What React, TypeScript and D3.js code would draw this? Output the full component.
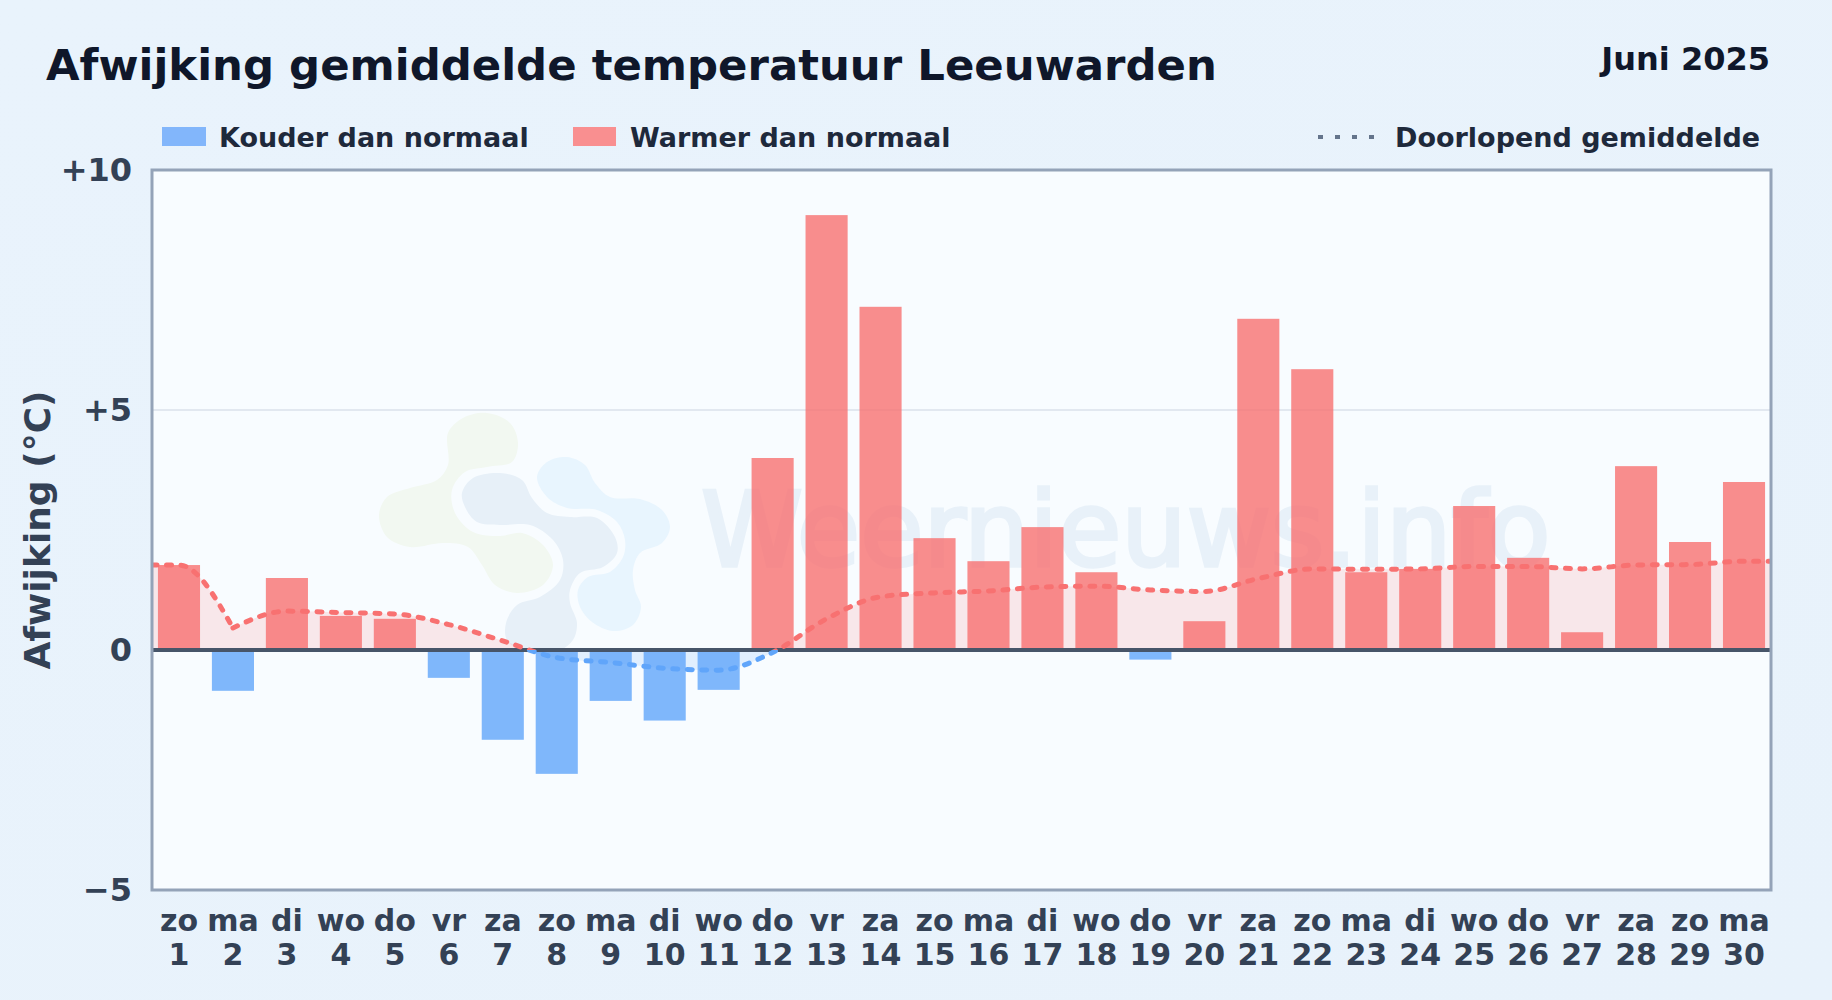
import { useMemo } from "react";
import * as d3 from "d3";

const W = 1832;
const H = 1000;
const mg = { top: 170, right: 61, bottom: 110, left: 152 };

const weekdays = ["zo", "ma", "di", "wo", "do", "vr", "za", "zo", "ma", "di", "wo", "do", "vr", "za", "zo", "ma", "di", "wo", "do", "vr", "za", "zo", "ma", "di", "wo", "do", "vr", "za", "zo", "ma"];
const days = d3.range(1, 31);
const anomaly = [1.77, -0.85, 1.5, 0.71, 0.65, -0.58, -1.87, -2.58, -1.06, -1.47, -0.83, 4.0, 9.06, 7.15, 2.33, 1.85, 2.56, 1.62, -0.2, 0.6, 6.9, 5.85, 1.62, 1.69, 3.0, 1.92, 0.37, 3.83, 2.25, 3.5];
const runningMean = [1.77, 0.46, 0.81, 0.78, 0.75, 0.53, 0.19, -0.16, -0.26, -0.38, -0.42, -0.05, 0.65, 1.11, 1.19, 1.23, 1.31, 1.33, 1.25, 1.22, 1.49, 1.69, 1.68, 1.69, 1.74, 1.74, 1.69, 1.77, 1.78, 1.85];
const yTicks = [10, 5, 0, -5];

const blobGreen: [number, number][] = [[448, 433], [463, 418], [487, 413], [510, 423], [518, 443], [512, 462], [487, 467], [465, 472], [452, 490], [455, 513], [473, 532], [500, 536], [522, 533], [543, 545], [553, 565], [543, 585], [517, 593], [495, 585], [482, 565], [468, 547], [443, 543], [410, 547], [387, 537], [379, 515], [387, 497], [410, 488], [437, 480], [448, 465]];
const blobSlate: [number, number][] = [[462, 493], [473, 478], [500, 473], [522, 480], [532, 498], [547, 513], [570, 517], [597, 518], [615, 537], [617, 553], [603, 567], [580, 573], [570, 590], [570, 603], [577, 623], [573, 640], [560, 650], [525, 652], [507, 640], [506, 623], [517, 605], [540, 597], [560, 580], [563, 560], [553, 540], [530, 525], [500, 525], [477, 522], [465, 507]];
const blobBlue: [number, number][] = [[537, 477], [547, 462], [567, 457], [585, 465], [595, 483], [610, 497], [640, 499], [662, 510], [670, 527], [662, 543], [640, 553], [633, 570], [635, 590], [641, 607], [633, 625], [613, 631], [592, 622], [580, 607], [578, 590], [588, 577], [610, 572], [623, 557], [625, 540], [617, 522], [597, 510], [567, 508], [547, 497]];

const FONT = "'DejaVu Sans', sans-serif";

export default function App() {
  const x = useMemo(
    () => d3.scaleBand<number>().domain(days).range([mg.left, W - mg.right]).paddingInner(0.22).paddingOuter(0.11),
    []
  );
  const y = useMemo(() => d3.scaleLinear().domain([-5, 10]).range([H - mg.bottom, mg.top]), []);
  const cx = (d: number) => x(d)! + x.bandwidth() / 2;
  const zeroY = y(0);

  // the mean runs on flat to both plot edges, with a kink at day 2
  const pts: [number, number][] = [
    [mg.left, y(runningMean[0])],
    ...runningMean.map((v, i): [number, number] => [cx(days[i]), y(v)]),
    [W - mg.right, y(runningMean[runningMean.length - 1])],
  ];
  const lineGen = d3.line().curve(d3.curveMonotoneX);
  const areaGen = d3.area().curve(d3.curveMonotoneX).y0(zeroY);
  const head = pts.slice(0, 3);
  const tail = pts.slice(2);
  const linePath = `${lineGen(head)}${lineGen(tail)}`;
  const areaPath = `${areaGen(head)}${areaGen(tail)}`;
  const blob = d3.line().curve(d3.curveCatmullRomClosed.alpha(0.5));

  const plotW = W - mg.left - mg.right;
  const plotH = H - mg.top - mg.bottom;

  return (
    <svg
      width={W}
      height={H}
      viewBox={`0 0 ${W} ${H}`}
      style={{ position: "absolute", left: 0, top: 0, fontFamily: FONT }}
    >
      <defs>
        <linearGradient id="pageBg" x1="0" y1="0" x2="1" y2="1">
          <stop offset="0%" stopColor="#e9f3fc" />
          <stop offset="100%" stopColor="#e8f2fb" />
        </linearGradient>
        <clipPath id="aboveZero">
          <rect x={mg.left} y={mg.top} width={plotW} height={zeroY - mg.top} />
        </clipPath>
        <clipPath id="belowZero">
          <rect x={mg.left} y={zeroY} width={plotW} height={H - mg.bottom - zeroY} />
        </clipPath>
      </defs>
      <rect width={W} height={H} fill="url(#pageBg)" />

      <text x={46} y={79.5} fontSize={43.4} fontWeight={700} fill="#0f172a">
        Afwijking gemiddelde temperatuur Leeuwarden
      </text>
      <text x={1770} y={70} fontSize={32} fontWeight={700} fill="#0f172a" textAnchor="end">
        Juni 2025
      </text>

      <rect x={162} y={127} width={44} height={19} fill="#82b6fb" />
      <text x={219} y={146.5} fontSize={27} fontWeight={700} fill="#1e293b">
        Kouder dan normaal
      </text>
      <rect x={573} y={127} width={43} height={19} fill="#f98f90" />
      <text x={630} y={146.5} fontSize={27} fontWeight={700} fill="#1e293b">
        Warmer dan normaal
      </text>
      <line x1={1318} x2={1376} y1={137} y2={137} stroke="#64748b" strokeWidth={4} strokeDasharray="5 12" />
      <text x={1395} y={146.5} fontSize={27} fontWeight={700} fill="#1e293b">
        Doorlopend gemiddelde
      </text>

      <rect x={mg.left} y={mg.top} width={plotW} height={plotH} fill="#f8fcff" />

      <path d={blob(blobGreen)!} fill="#f2f8f1" />
      <path d={blob(blobSlate)!} fill="#e7f0f8" />
      <path d={blob(blobBlue)!} fill="#e8f5fe" />
      <text x={701} y={566} fontSize={103} fontWeight={400} stroke="#e8f1f9" strokeWidth={3.5} fill="#e8f1f9">
        Weernieuws.info
      </text>

      <line x1={mg.left} x2={W - mg.right} y1={y(5)} y2={y(5)} stroke="#e2e8f0" strokeWidth={2} />

      <path d={areaPath} fill="#f87171" opacity={0.15} clipPath="url(#aboveZero)" />
      <path d={areaPath} fill="#60a5fa" opacity={0.15} clipPath="url(#belowZero)" />

      {anomaly.map((v, i) => (
        <rect
          key={days[i]}
          x={x(days[i])}
          y={y(Math.max(v, 0))}
          width={x.bandwidth()}
          height={Math.abs(y(v) - zeroY)}
          fill={v >= 0 ? "#f87171" : "#60a5fa"}
          opacity={0.8}
        />
      ))}

      <line x1={mg.left} x2={W - mg.right} y1={zeroY} y2={zeroY} stroke="#475569" strokeWidth={4} />

      <g fill="none" strokeWidth={5} strokeDasharray="5 9.5" strokeLinecap="round">
        <path d={linePath} stroke="#f87171" clipPath="url(#aboveZero)" />
        <path d={linePath} stroke="#60a5fa" clipPath="url(#belowZero)" />
      </g>

      <rect x={mg.left} y={mg.top} width={plotW} height={plotH} fill="none" stroke="#94a3b8" strokeWidth={3} />

      {yTicks.map((t) => (
        <text
          key={t}
          x={132}
          y={y(t) + 11}
          fontSize={32}
          fontWeight={700}
          fill="#334155"
          textAnchor="end"
        >
          {t > 0 ? `+${t}` : t < 0 ? `\u2212${-t}` : "0"}
        </text>
      ))}
      <text
        transform={`translate(50 ${(mg.top + H - mg.bottom) / 2}) rotate(-90)`}
        fontSize={36}
        fontWeight={700}
        fill="#334155"
        textAnchor="middle"
      >
        Afwijking (°C)
      </text>

      {days.map((d, i) => (
        <g key={d} fontSize={30} fontWeight={700} fill="#334155" textAnchor="middle">
          <text x={cx(d)} y={931}>
            {weekdays[i]}
          </text>
          <text x={cx(d)} y={965}>
            {d}
          </text>
        </g>
      ))}
    </svg>
  );
}
